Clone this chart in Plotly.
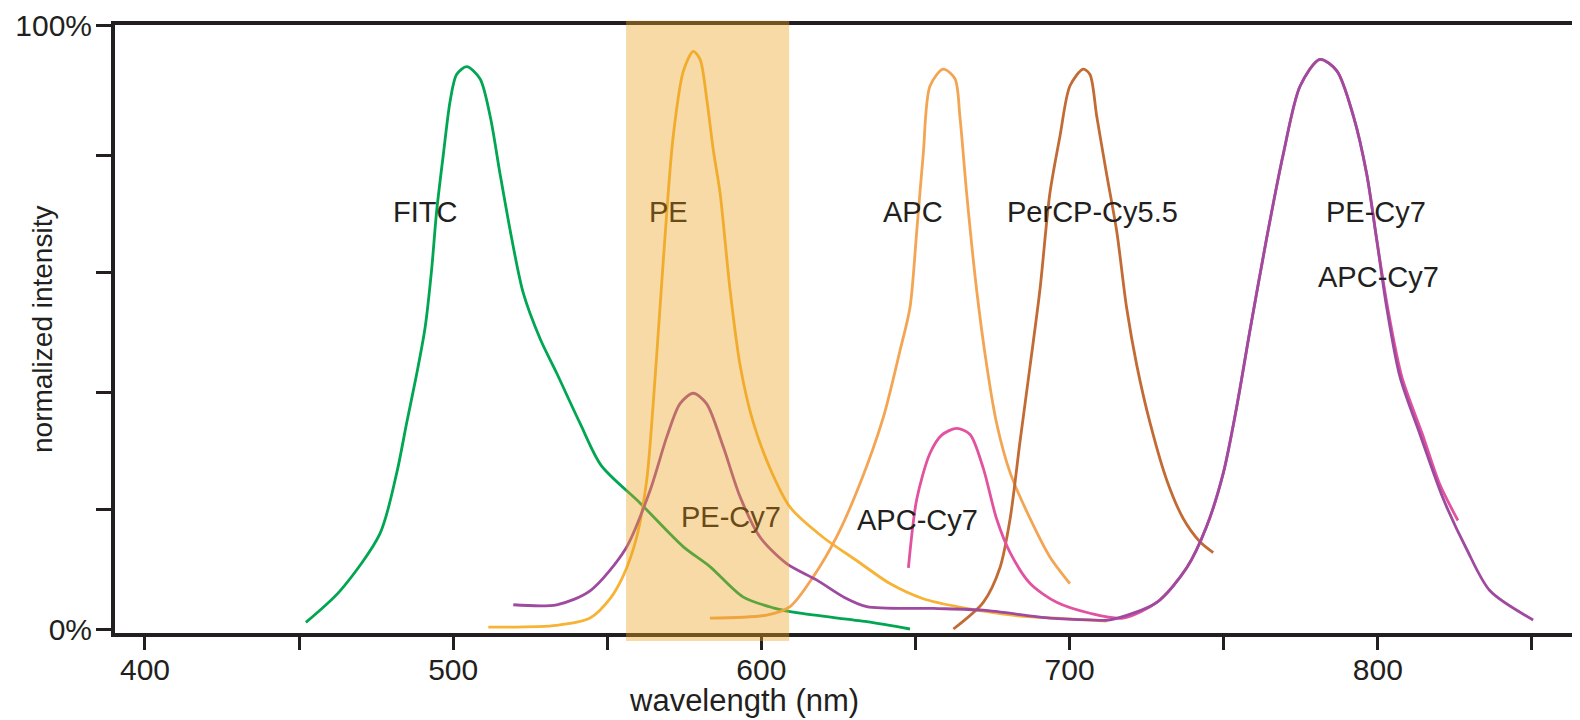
import plotly.graph_objects as go

# ---------------- data ----------------
fitc_nm = [452.2, 463.3, 476.2, 481.7, 484.9, 488.2, 490.9, 493.0, 494.6, 496.8, 499.0, 501.1, 504.4,
           508.7, 512.0, 515.2, 519.0, 522.7, 528.2, 533.6, 541.1, 548.0, 560.6, 574.6, 583.3, 594.0,
           603.8, 612.5, 634.2, 648.2]
fitc_int = [1.1, 6.3, 15.7, 25.8, 34.0, 42.2, 49.8, 59.3, 68.8, 78.3, 87.1, 91.5, 92.8,
            90.8, 84.6, 75.1, 64.4, 55.5, 47.9, 42.2, 34.0, 27.0, 20.8, 13.6, 10.3, 5.3,
            3.5, 2.6, 1.2, 0.0]

pe_nm = [511.4, 533.6, 544.4, 550.9, 555.2, 559.5, 562.8, 564.9, 567.1, 569.3, 571.4, 574.7, 577.9,
         580.1, 582.3, 584.4, 586.6, 589.8, 593.1, 597.4, 602.8, 609.3, 620.1, 630.9, 641.7, 652.5,
         663.4, 674.2, 685.0, 695.8, 712.0]
pe_int = [0.3, 0.6, 1.8, 5.0, 8.8, 15.1, 24.6, 37.2, 53.0, 68.8, 81.4, 92.1, 95.3,
          94.0, 87.3, 79.0, 71.9, 56.1, 43.5, 34.0, 26.5, 20.1, 15.1, 11.3, 7.5, 5.0,
          3.7, 2.8, 2.1, 1.8, 1.3]

apc_nm = [583.3, 601.7, 609.3, 616.8, 624.4, 632.0, 639.6, 645.0, 648.2, 650.4, 652.5, 654.7, 659.0,
          662.8, 664.4, 666.6, 669.8, 673.1, 676.3, 680.7, 687.2, 693.6, 700.1]
apc_int = [1.8, 2.3, 3.7, 8.6, 15.2, 24.0, 35.0, 46.0, 53.0, 65.6, 78.3, 89.6, 92.4,
           90.8, 84.6, 71.9, 56.1, 43.5, 34.0, 25.8, 18.2, 11.9, 7.5]

percp_nm = [662.3, 672.0, 677.4, 680.7, 683.9, 687.2, 690.4, 693.6, 696.9, 700.1, 704.4, 706.6, 708.8,
            712.0, 715.3, 718.5, 721.8, 726.1, 731.5, 736.9, 742.3, 746.6]
percp_int = [0.0, 4.4, 10.1, 18.2, 30.9, 43.5, 56.1, 71.9, 81.4, 89.6, 92.4, 91.5, 84.6,
             75.1, 65.6, 53.0, 43.5, 34.0, 24.6, 18.2, 14.4, 12.6]

apccy7_nm = [647.7, 650.4, 654.7, 658.5, 663.4, 667.7, 672.0, 676.3, 680.7, 687.2, 695.8, 706.6, 717.3,
             728.3, 738.0, 744.5, 749.9, 754.2, 758.5, 763.9, 769.3, 774.8, 781.2, 786.7, 792.1, 796.4,
             799.6, 803.2, 807.8, 814.5, 820.0, 826.0]
apccy7_int = [10.1, 21.4, 29.0, 32.0, 33.1, 32.1, 26.5, 18.2, 12.6, 7.5, 4.4, 2.6, 1.8,
              4.4, 10.1, 17.0, 25.8, 36.6, 49.2, 64.4, 78.3, 89.6, 94.0, 92.1, 84.6, 75.1,
              64.4, 53.0, 41.6, 32.1, 24.0, 17.9]

pecy7_nm = [519.5, 533.6, 544.4, 556.0, 563.9, 569.3, 573.6, 577.9, 582.2, 587.6, 593.1, 599.5, 608.2,
            617.9, 626.6, 634.2, 655.8, 671.9, 693.6, 706.6, 713.1, 728.3, 738.0, 744.5, 749.9, 754.2,
            758.5, 763.9, 769.3, 774.8, 781.2, 786.7, 792.1, 796.4, 799.6, 802.9, 807.2, 813.7, 821.3,
            828.8, 836.4, 850.4]
pecy7_int = [4.0, 4.0, 6.3, 13.3, 22.9, 31.7, 37.2, 38.9, 37.2, 30.1, 21.8, 15.2, 10.8,
             8.1, 5.3, 3.7, 3.4, 3.1, 1.8, 1.5, 1.5, 4.4, 10.1, 17.0, 25.8, 36.6,
             49.2, 64.4, 78.3, 89.6, 94.0, 92.1, 84.6, 75.1, 64.4, 53.0, 41.6, 32.1, 21.4,
             13.2, 6.3, 1.5]

# laser / filter band (nm)
band_nm = [556.1, 609.0]

# labels: text, wavelength, intensity, inside band?
label_text = ["FITC", "PE", "APC", "PerCP-Cy5.5", "PE-Cy7", "APC-Cy7", "PE-Cy7", "APC-Cy7"]
label_nm = [490.9, 569.7, 649.2, 707.3, 799.4, 800.1, 590.1, 650.8]
label_int = [68.8, 68.8, 68.8, 68.8, 68.8, 58.1, 18.5, 18.0]
label_in_band = [False, True, False, False, False, False, True, False]

x_tickvals = [400, 450, 500, 550, 600, 650, 700, 750, 800, 850]
x_ticktext = ["400", "", "500", "", "600", "", "700", "", "800", ""]
y_tickvals = [0, 19.8, 39.1, 58.9, 78.2, 99.6]
y_ticktext = ["0%", "", "", "", "", "100%"]

# ---------------- figure ----------------
FONT = "Liberation Sans, Arial, sans-serif"
INK = "#231F20"
PAGE_OFFSET = 8  # default body margin of the html page

series = [
    ("FITC", fitc_nm, fitc_int, "#00A651"),
    ("PE", pe_nm, pe_int, "#F6B335"),
    ("APC", apc_nm, apc_int, "#F3A553"),
    ("PerCP-Cy5.5", percp_nm, percp_int, "#C26B35"),
    ("APC-Cy7", apccy7_nm, apccy7_int, "#E2529F"),
    ("PE-Cy7", pecy7_nm, pecy7_int, "#9E4A9E"),
]

fig = go.Figure()
for name, xs, ys, col in series:
    fig.add_trace(go.Scatter(x=xs, y=ys, mode="lines", name=name,
                             line=dict(color=col, width=2.8, shape="spline", smoothing=0.8),
                             hoverinfo="x+y+name"))

fig.add_shape(type="rect", xref="x", yref="paper", x0=band_nm[0], x1=band_nm[1],
              y0=-0.013, y1=1.007, fillcolor="rgb(235,162,32)", opacity=0.4,
              line=dict(width=0), layer="above")

for t, xv, yv, inb in zip(label_text, label_nm, label_int, label_in_band):
    fig.add_annotation(x=xv, y=yv, xref="x", yref="y", text=t, showarrow=False,
                       font=dict(family=FONT, size=29, color="#6B4A17" if inb else INK),
                       xanchor="center", yanchor="middle")

fig.add_annotation(x=0.5, y=0, xref="paper", yref="paper", text="wavelength (nm)",
                   showarrow=False, font=dict(family=FONT, size=31, color=INK),
                   xshift=744 - (115 + 1460 / 2), yshift=-(700 - 633), yanchor="middle", xanchor="center")
fig.add_annotation(x=0, y=0.5, xref="paper", yref="paper", text="normalized intensity",
                   showarrow=False, textangle=-90, font=dict(family=FONT, size=28, color=INK),
                   xshift=42 - 115, yshift=329 - 330, xanchor="center", yanchor="middle")

fig.update_layout(
    width=1580 - PAGE_OFFSET, height=720 - PAGE_OFFSET,
    margin=dict(l=115 - PAGE_OFFSET, r=5, t=25 - PAGE_OFFSET, b=87),
    paper_bgcolor="white", plot_bgcolor="white",
    showlegend=False,
    font=dict(family=FONT, size=30, color=INK),
)
fig.update_xaxes(range=[390.27, 863.98], tickvals=x_tickvals, ticktext=x_ticktext, automargin=False,
                 showgrid=False, zeroline=False, showline=True, linewidth=4, linecolor=INK,
                 mirror=True, ticks="outside", ticklen=13, tickwidth=3, tickcolor=INK,
                 ticklabelstandoff=-6,
                 tickfont=dict(family=FONT, size=30, color=INK))
fig.update_yaxes(range=[-0.66, 99.67], tickvals=y_tickvals, ticktext=y_ticktext, automargin=False,
                 showgrid=False, zeroline=False, showline=True, linewidth=4, linecolor=INK,
                 mirror=True, ticks="outside", ticklen=15, tickwidth=3, tickcolor=INK,
                 ticklabelstandoff=-2,
                 tickfont=dict(family=FONT, size=30, color=INK))

fig.write_html("out.html")
